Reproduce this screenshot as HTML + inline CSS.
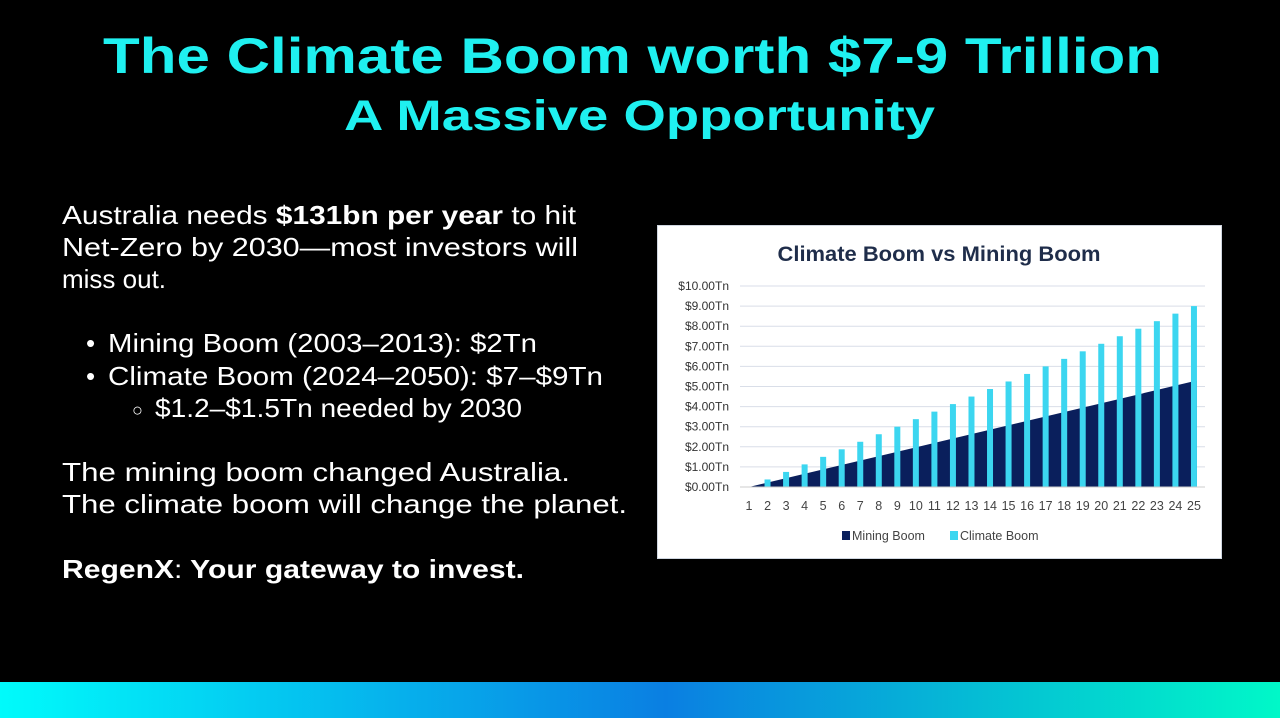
<!DOCTYPE html>
<html><head><meta charset="utf-8"><style>
html,body{margin:0;padding:0;background:#000;width:1280px;height:718px;overflow:hidden}
svg{display:block}
</style></head><body>
<svg id="s" width="1280" height="718" viewBox="0 0 1280 718" xmlns="http://www.w3.org/2000/svg">
<defs>
<linearGradient id="g" x1="0" x2="1" y1="0" y2="0">
<stop offset="0" stop-color="#00fbfb"/><stop offset="0.52" stop-color="#0a7fe2"/><stop offset="1" stop-color="#00f8c8"/>
</linearGradient>
</defs>
<rect width="1280" height="718" fill="#000"/>
<rect x="0" y="682" width="1280" height="36" fill="url(#g)"/>
<g font-family="Liberation Sans, sans-serif" font-weight="bold" fill="#1ff0f0">
<text x="103" y="73" font-size="50" textLength="1059" lengthAdjust="spacingAndGlyphs">The Climate Boom worth $7-9 Trillion</text>
<text x="344" y="130" font-size="43" textLength="591" lengthAdjust="spacingAndGlyphs">A Massive Opportunity</text>
</g>
<g font-family="Liberation Sans, sans-serif" font-size="26" fill="#fff">
<text x="62" y="224" textLength="514" lengthAdjust="spacingAndGlyphs">Australia needs <tspan font-weight="bold">$131bn per year</tspan> to hit</text>
<text x="62" y="256" textLength="516" lengthAdjust="spacingAndGlyphs">Net-Zero by 2030—most investors will</text>
<text x="62" y="288">miss out.</text>
<text x="86" y="352">•</text>
<text x="108" y="352" textLength="429" lengthAdjust="spacingAndGlyphs">Mining Boom (2003–2013): $2Tn</text>
<text x="86" y="385">•</text>
<text x="108" y="385" textLength="495" lengthAdjust="spacingAndGlyphs">Climate Boom (2024–2050): $7–$9Tn</text>
<text x="132" y="416" font-size="18">○</text>
<text x="155" y="417" textLength="367" lengthAdjust="spacingAndGlyphs">$1.2–$1.5Tn needed by 2030</text>
<text x="62" y="481" textLength="508" lengthAdjust="spacingAndGlyphs">The mining boom changed Australia.</text>
<text x="62" y="513" textLength="565" lengthAdjust="spacingAndGlyphs">The climate boom will change the planet.</text>
<text x="62" y="578" font-weight="bold" textLength="462" lengthAdjust="spacingAndGlyphs">RegenX<tspan font-weight="normal">:</tspan> Your gateway to invest.</text>
</g>
<rect x="657.5" y="225.5" width="564" height="333" fill="#fff" stroke="#cfd6e0"/>
<text x="939" y="261" text-anchor="middle" font-family="Liberation Sans, sans-serif" font-weight="bold" font-size="21" fill="#1f2d4a" textLength="323" lengthAdjust="spacingAndGlyphs">Climate Boom vs Mining Boom</text>
<g id="chart"></g>
</svg>
<script>
var c=document.getElementById('chart'),h='';
function Y(v){return 487-v*20.1}
for(var k=0;k<=10;k++){var y=Y(k);h+='<line x1="740" x2="1205" y1="'+y+'" y2="'+y+'" stroke="#d9dee8" stroke-width="1"/>';
h+='<text x="729" y="'+(y+4)+'" text-anchor="end" font-family="Liberation Sans, sans-serif" font-size="12" fill="#333">$'+k+'.00Tn</text>';}
h+='<polygon points="749,487 1197,'+Y(5.3)+' 1197,487" fill="#0a1f5c"/>';
for(var i=1;i<=25;i++){var x=749+18.54*(i-1);var v=0.375*(i-1);
if(i>1)h+='<rect x="'+(x-3)+'" y="'+Y(v)+'" width="6" height="'+(v*20.1)+'" fill="#3cd6f0"/>';
h+='<text x="'+x+'" y="510" text-anchor="middle" font-family="Liberation Sans, sans-serif" font-size="12.5" fill="#444">'+i+'</text>';}
h+='<line x1="740" x2="1205" y1="487" y2="487" stroke="#ccc"/>';
h+='<rect x="842" y="531" width="8" height="9" fill="#0a1f5c"/><text x="852" y="540" font-family="Liberation Sans, sans-serif" font-size="12.5" fill="#444">Mining Boom</text>';
h+='<rect x="950" y="531" width="8" height="9" fill="#3cd6f0"/><text x="960" y="540" font-family="Liberation Sans, sans-serif" font-size="12.5" fill="#444">Climate Boom</text>';
c.innerHTML=h;
</script>
</body></html>
